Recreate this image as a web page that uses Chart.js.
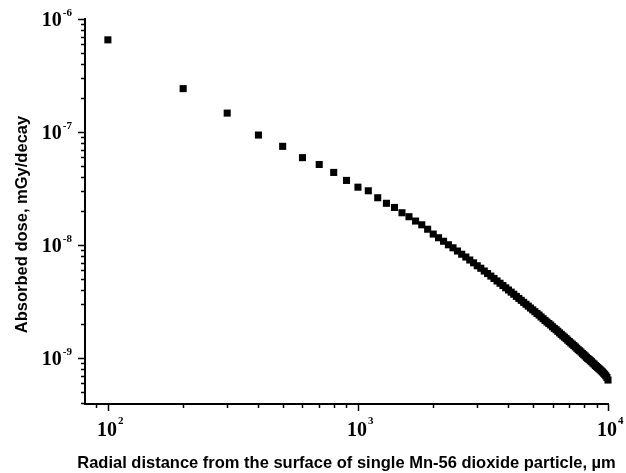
<!DOCTYPE html>
<html>
<head>
<meta charset="utf-8">
<script src="https://cdn.jsdelivr.net/npm/chart.js@4"></script>
<style>
  body { margin: 0; background: #fff; }
  #grafico { display: block; }
</style>
</head>
<body>
<canvas id="grafico" width="626" height="473"></canvas>
<script>
//------ Datos ------//
let distancias = [
  100, 200, 300, 400, 500, 600, 700, 800, 900, 1000,
  1100, 1200, 1300, 1400, 1500, 1600, 1700, 1800, 1900, 2000,
  2100, 2200, 2300, 2400, 2500, 2600, 2700, 2800, 2900, 3000,
  3100, 3200, 3300, 3400, 3500, 3600, 3700, 3800, 3900, 4000,
  4100, 4200, 4300, 4400, 4500, 4600, 4700, 4800, 4900, 5000,
  5100, 5200, 5300, 5400, 5500, 5600, 5700, 5800, 5900, 6000,
  6100, 6200, 6300, 6400, 6500, 6600, 6700, 6800, 6900, 7000,
  7100, 7200, 7300, 7400, 7500, 7600, 7700, 7800, 7900, 8000,
  8100, 8200, 8300, 8400, 8500, 8600, 8700, 8800, 8900, 9000,
  9100, 9200, 9300, 9400, 9500, 9600, 9700, 9800, 9900, 10000
];

let dosis = [
  6.54e-7, 2.42e-7, 1.47e-7, 9.4e-8, 7.47e-8, 5.93e-8, 5.16e-8, 4.39e-8, 3.73e-8, 3.25e-8,
  3.02e-8, 2.62e-8, 2.34e-8, 2.15e-8, 1.93e-8, 1.78e-8, 1.63e-8, 1.51e-8, 1.38e-8, 1.25e-8,
  1.16e-8, 1.08e-8, 1.005e-8, 9.45e-9, 8.85e-9, 8.29e-9, 7.83e-9, 7.37e-9, 6.96e-9, 6.55e-9,
  6.23e-9, 5.89e-9, 5.59e-9, 5.31e-9, 5.06e-9, 4.81e-9, 4.59e-9, 4.38e-9, 4.18e-9, 4.00e-9,
  3.83e-9, 3.67e-9, 3.51e-9, 3.37e-9, 3.24e-9, 3.11e-9, 2.99e-9, 2.88e-9, 2.77e-9, 2.67e-9,
  2.57e-9, 2.48e-9, 2.40e-9, 2.31e-9, 2.23e-9, 2.15e-9, 2.08e-9, 2.02e-9, 1.96e-9, 1.89e-9,
  1.83e-9, 1.78e-9, 1.725e-9, 1.67e-9, 1.62e-9, 1.57e-9, 1.53e-9, 1.485e-9, 1.44e-9, 1.40e-9,
  1.36e-9, 1.325e-9, 1.29e-9, 1.255e-9, 1.22e-9, 1.185e-9, 1.16e-9, 1.13e-9, 1.095e-9, 1.07e-9,
  1.045e-9, 1.015e-9, 9.9e-10, 9.72e-10, 9.46e-10, 9.28e-10, 9.02e-10, 8.84e-10, 8.58e-10, 8.41e-10,
  8.23e-10, 8.05e-10, 7.88e-10, 7.70e-10, 7.53e-10, 7.35e-10, 7.18e-10, 6.96e-10, 6.74e-10, 6.39e-10
];

// exponentes de las marcas principales
let xExponentes = [2, 3, 4];
let yExponentes = [-9, -8, -7, -6];

let tituloX = 'Radial distance from the surface of single Mn-56 dioxide particle, \u00b5m';
let tituloY = 'Absorbed dose, mGy/decay';

let puntos = distancias.map(function (d, i) { return { x: d, y: dosis[i] }; });

//------ Marcas, etiquetas y titulos ------//
let ejesPlugin = {
  id: 'ejes',
  afterDraw: function (chart) {
    let ctx = chart.ctx;
    let area = chart.chartArea;
    let sx = chart.scales.x;
    let sy = chart.scales.y;
    ctx.save();
    ctx.strokeStyle = '#000';
    ctx.fillStyle = '#000';
    ctx.lineWidth = 1.5;

    // marcas eje X
    for (let e = 1; e <= 4; e++) {
      for (let k = 1; k <= 9; k++) {
        let v = k * Math.pow(10, e);
        if (v < sx.min || v > sx.max) continue;
        let px = Math.round(sx.getPixelForValue(v)) + 0.5;
        let largo = k === 1 ? 7 : 4;
        ctx.beginPath();
        ctx.moveTo(px, area.bottom);
        ctx.lineTo(px, area.bottom + largo);
        ctx.stroke();
      }
    }
    // marcas eje Y
    for (let e = -10; e <= -6; e++) {
      for (let k = 1; k <= 9; k++) {
        let v = k * Math.pow(10, e);
        if (v < sy.min * 0.999 || v > sy.max * 1.001) continue;
        let py = Math.round(sy.getPixelForValue(v)) + 0.5;
        let largo = k === 1 ? 7 : 4;
        ctx.beginPath();
        ctx.moveTo(area.left, py);
        ctx.lineTo(area.left - largo, py);
        ctx.stroke();
      }
    }

    let fuenteBase = 'bold 20px "Liberation Serif"';
    let fuenteExp = 'bold 11px "Liberation Serif"';
    ctx.textBaseline = 'alphabetic';

    // etiquetas eje X
    xExponentes.forEach(function (e) {
      let px = sx.getPixelForValue(Math.pow(10, e));
      ctx.font = fuenteBase;
      ctx.textAlign = 'left';
      ctx.fillText('10', px - 11, area.bottom + 32);
      ctx.font = fuenteExp;
      ctx.fillText(String(e), px + 10, area.bottom + 20);
    });

    // etiquetas eje Y
    yExponentes.forEach(function (e) {
      let py = sy.getPixelForValue(Math.pow(10, e));
      ctx.font = fuenteExp;
      let txtExp = String(e);
      let anchoExp = ctx.measureText(txtExp).width;
      ctx.textAlign = 'right';
      ctx.fillText(txtExp, 72, py - 3);
      ctx.font = fuenteBase;
      ctx.fillText('10', 72 - anchoExp - 1, py + 7);
    });

    // titulos
    ctx.font = 'bold 16.5px "Liberation Sans"';
    ctx.textAlign = 'center';
    ctx.textBaseline = 'middle';
    ctx.fillText(tituloX, (area.left + area.right) / 2, 463);

    ctx.translate(22, (area.top + area.bottom) / 2 + 13);
    ctx.rotate(-Math.PI / 2);
    ctx.fillText(tituloY, 0, 0);
    ctx.restore();
  }
};

//------ Grafico ------//
let ctx = document.querySelector('#grafico');
let grafico = new Chart(ctx, {
  type: 'scatter',
  data: {
    datasets: [{
      data: puntos,
      pointStyle: 'rect',
      pointRadius: 5,
      pointBorderWidth: 0,
      backgroundColor: '#000',
      borderColor: '#000',
      clip: false
    }]
  },
  options: {
    responsive: false,
    animation: false,
    events: [],
    layout: { padding: { top: 19, right: 18, left: 0, bottom: 0 } },
    plugins: {
      legend: { display: false },
      tooltip: { enabled: false }
    },
    scales: {
      x: {
        type: 'logarithmic',
        min: 81,
        max: 10000,
        grid: { display: false },
        border: { display: true, color: '#000', width: 2 },
        ticks: { display: false },
        afterFit: function (s) { s.height = 69; }
      },
      y: {
        type: 'logarithmic',
        min: 3.92e-10,
        max: 1e-6,
        grid: { display: false },
        border: { display: true, color: '#000', width: 2 },
        ticks: { display: false },
        afterFit: function (s) { s.width = 85; }
      }
    }
  },
  plugins: [ejesPlugin]
});
</script>
</body>
</html>
